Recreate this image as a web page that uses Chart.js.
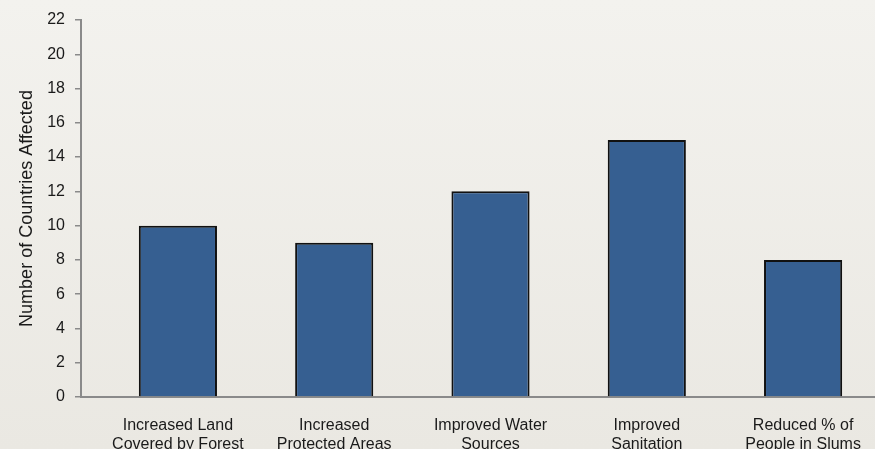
<!DOCTYPE html>
<html>
<head>
<meta charset="utf-8">
<script src="https://cdn.jsdelivr.net/npm/chart.js@4"></script>
<style>
  html, body { margin: 0; padding: 0; background: #efede8; }
  #grafico { display: block; }
</style>
</head>
<body>
<canvas id="grafico" width="875" height="449"></canvas>
<script>
const categorias = [
    ["Increased Land", "Covered by Forest"],
    ["Increased", "Protected Areas"],
    ["Improved Water", "Sources"],
    ["Improved", "Sanitation"],
    ["Reduced % of", "People in Slums"]
];
const paises = [10, 9, 12, 15, 8];
const ticksY = [0, 2, 4, 6, 8, 10, 12, 14, 16, 18, 20, 22];

// fondo degradado gris claro detras de todo el grafico
const fondo = {
    id: "fondo",
    beforeDraw(chart) {
        const ctx = chart.ctx;
        const g = ctx.createLinearGradient(0, 0, 0, chart.height);
        g.addColorStop(0, "#f3f2ee");
        g.addColorStop(1, "#eae8e2");
        ctx.save();
        ctx.fillStyle = g;
        ctx.fillRect(0, 0, chart.width, chart.height);
        ctx.restore();
    }
};

// cada barra en la posicion de su categoria (0..4)
const puntos = paises.map((v, i) => ({ x: i, y: v }));

const ctx = document.getElementById("grafico").getContext("2d");
new Chart(ctx, {
    type: "bar",
    data: {
        datasets: [{
            data: puntos,
            backgroundColor: "#365f91",
            borderColor: "#111111",
            borderWidth: 2,
            categoryPercentage: 1,
            barPercentage: 0.5
        }]
    },
    options: {
        responsive: false,
        animation: false,
        layout: { padding: { top: 20, right: 0, left: 0, bottom: 0 } },
        plugins: {
            legend: { display: false },
            tooltip: { enabled: false }
        },
        scales: {
            x: {
                type: "linear",
                offset: false,
                min: -0.62,
                max: 4.46,
                afterBuildTicks(axis) {
                    axis.ticks = categorias.map((c, i) => ({ value: i }));
                },
                afterFit(axis) {
                    axis.height = 52;
                },
                grid: { display: false },
                border: { color: "#8a8a8a", width: 2 },
                ticks: {
                    color: "#1a1a1a",
                    font: { family: "Liberation Sans", size: 16, lineHeight: 1.2 },
                    padding: 11,
                    maxRotation: 0,
                    autoSkip: false,
                    callback: (v) => categorias[v]
                }
            },
            y: {
                min: 0,
                max: 22,
                afterBuildTicks(axis) {
                    axis.ticks = ticksY.map(v => ({ value: v }));
                },
                afterFit(axis) {
                    axis.width = 81;
                },
                grid: {
                    drawOnChartArea: false,
                    drawTicks: true,
                    tickLength: 6,
                    color: "#8a8a8a",
                    lineWidth: 1.5
                },
                border: { color: "#8a8a8a", width: 2 },
                ticks: {
                    color: "#1a1a1a",
                    font: { family: "Liberation Sans", size: 16 },
                    padding: 10
                },
                title: {
                    display: true,
                    text: "Number of Countries Affected",
                    color: "#1a1a1a",
                    font: { family: "Liberation Sans", size: 18 },
                    padding: { top: 16, bottom: 0 }
                }
            }
        }
    },
    plugins: [fondo]
});
</script>
</body>
</html>
